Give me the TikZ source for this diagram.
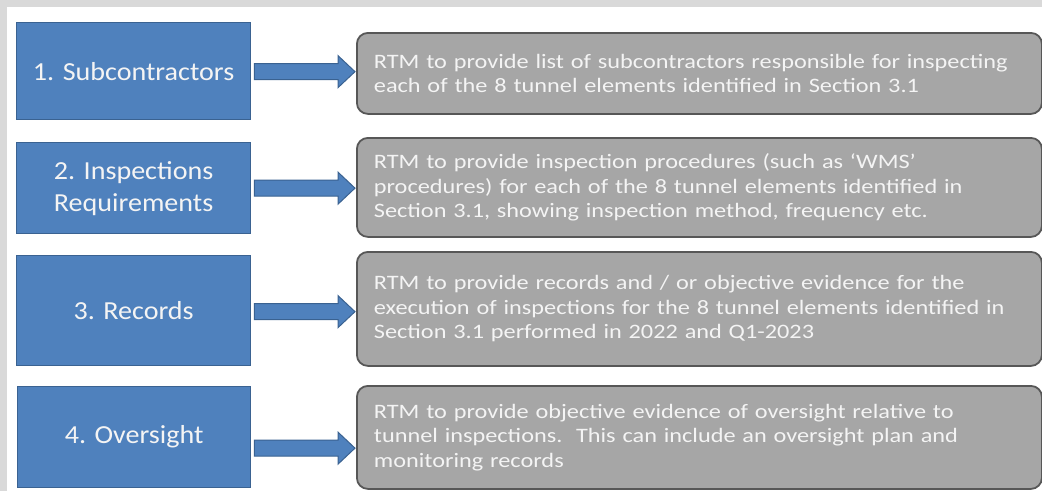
\documentclass[tikz,border=0pt]{standalone}
\usepackage{fontspec}
\setmainfont{Carlito}
\newfontfamily\grayfont{Carlito}[FakeStretch=1.185]
\newfontfamily\bluefont{Carlito}[FakeStretch=1.08]
\usetikzlibrary{calc}
\definecolor{bluefill}{HTML}{4F81BD}
\definecolor{blueline}{HTML}{3A6291}
\definecolor{grayfill}{HTML}{A6A6A6}
\definecolor{grayline}{HTML}{575757}
\definecolor{framegray}{HTML}{D9D9D9}
\definecolor{txtwhite}{HTML}{F4F4F4}
\tikzset{
  bluebox/.style={draw=blueline, fill=bluefill, line width=1.3pt, anchor=north west,
    inner sep=0pt, align=center, text=txtwhite,
    font=\bluefont\fontsize{26}{32}\selectfont},
  graybox/.style={draw=grayline, fill=grayfill, line width=1.8pt, rounded corners=11pt,
    anchor=north west, inner xsep=17pt, inner ysep=0pt, text width=651pt, align=left,
    minimum width=685pt, text=txtwhite, font=\grayfont\fontsize{20.5}{24.4}\selectfont},
  blockarrow/.style={fill=bluefill, draw=blueline, line width=1pt, line join=miter}
}
\newcommand\blockarr[2]{%
  \path[blockarrow] ($(#1)+(0,-8)$) -- ($(#2)+(-17,-8)$) -- ($(#2)+(-17,-16)$) -- (#2)
    -- ($(#2)+(-17,16)$) -- ($(#2)+(-17,8)$) -- ($(#1)+(0,8)$) -- cycle;}
\begin{document}
\begin{tikzpicture}[x=1pt,y=-1pt]
\fill[framegray] (0,0) rectangle (1042,491);
\fill[white] (7,7) rectangle (1042,491);
\useasboundingbox (0,0) rectangle (1042,491);

\node[bluebox, minimum width=234pt, minimum height=97pt] (b1) at (16,22) {1. Subcontractors};
\node[bluebox, minimum width=234pt, minimum height=91pt] (b2) at (16,142) {2. Inspections\\Requirements};
\node[bluebox, minimum width=234pt, minimum height=110pt] (b3) at (16,255) {3. Records};
\node[bluebox, minimum width=233pt, minimum height=101pt] (b4) at (17,386) {4. Oversight};

\node[graybox, minimum height=81pt] (g1) at (356,32) {RTM to provide list of subcontractors responsible for inspecting\\each of the 8 tunnel elements identified in Section 3.1};
\node[graybox, minimum height=99pt] (g2) at (356,137) {RTM to provide inspection procedures (such as ‘WMS’\\procedures) for each of the 8 tunnel elements identified in\\Section 3.1, showing inspection method, frequency etc.};
\node[graybox, minimum height=114pt] (g3) at (356,251) {RTM to provide records and / or objective evidence for the\\execution of inspections for the 8 tunnel elements identified in\\Section 3.1 performed in 2022 and Q1-2023};
\node[graybox, minimum height=103pt] (g4) at (356,385) {RTM to provide objective evidence of oversight relative to\\tunnel inspections.\ \ This can include an oversight plan and\\monitoring records};

\coordinate (a1s) at ($(b1.east)+(3,0.5)$);
\coordinate (a2s) at ($(b2.east)+(3,0)$);
\coordinate (a3s) at ($(b3.east)+(3,1)$);
\coordinate (a4s) at ($(b4.east)+(3,11)$);
\coordinate (a1e) at ($(a1s -| g1.west)+(-1,0)$);
\coordinate (a2e) at ($(a2s -| g2.west)+(-1,0)$);
\coordinate (a3e) at ($(a3s -| g3.west)+(-1,0)$);
\coordinate (a4e) at ($(a4s -| g4.west)+(-1,0)$);
\blockarr{a1s}{a1e}
\blockarr{a2s}{a2e}
\blockarr{a3s}{a3e}
\blockarr{a4s}{a4e}
\end{tikzpicture}
\end{document}
